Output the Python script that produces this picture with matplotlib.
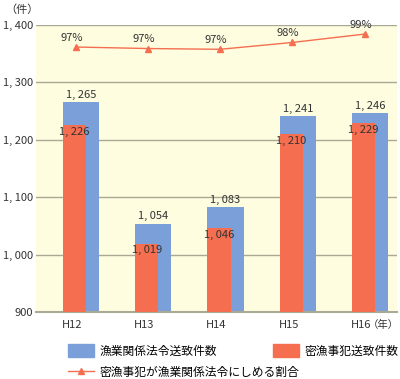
import numpy as np
import matplotlib.pyplot as plt
from matplotlib.lines import Line2D
from matplotlib.patches import Patch

plt.rcParams['font.family'] = ['Noto Sans CJK JP', 'DejaVu Sans']

years = ['H12', 'H13', 'H14', 'H15', 'H16']
total = [1265, 1054, 1083, 1241, 1246]      # 漁業関係法令送致件数
poach = [1226, 1019, 1046, 1210, 1229]      # 密漁事犯送致件数
rate = [96.9, 96.7, 96.6, 97.5, 98.6]       # 割合 (%)
rate_labels = ['97%', '97%', '97%', '98%', '99%']

blue = '#7b9fd8'
red = '#f56e50'

fig = plt.figure(figsize=(4.0, 3.79), dpi=100)
ax = fig.add_axes([36 / 400, 1 - 312 / 379, 361 / 400, 287 / 379])
ax.set_facecolor('#fefde0')

x = np.arange(len(years))
ax.bar(x - 0.125, total, width=0.5, align='edge', color=blue, zorder=2)
ax.bar(x - 0.125, poach, width=0.32, align='edge', color=red, zorder=3)

for i in x:
    ax.text(i + 0.125, total[i] + 4, f'{total[i] // 1000}, {total[i] % 1000:03d}',
            ha='center', va='bottom', fontsize=8, color='#333333', zorder=5)
    ax.text(i + 0.035, poach[i] - 3, f'{poach[i] // 1000}, {poach[i] % 1000:03d}',
            ha='center', va='top', fontsize=8, color='#333333', zorder=5)

ax.set_ylim(900, 1400)
ax.set_xlim(-0.5, 4.5)
ax.set_yticks([900, 1000, 1100, 1200, 1300, 1400])
ax.set_yticklabels(['900', '1, 000', '1, 100', '1, 200', '1, 300', '1, 400'])
ax.set_xticks(x)
ax.set_xticklabels(years)
ax.tick_params(length=0, labelsize=8, colors='#333333')
ax.tick_params(axis='y', pad=2)
ax.tick_params(axis='x', pad=6)
ax.grid(axis='y', color='#a9a996', lw=1, zorder=1)
for s in ['top', 'right', 'left']:
    ax.spines[s].set_visible(False)
ax.spines['bottom'].set_color('#a9a996')
ax.spines['bottom'].set_linewidth(1.5)

# 割合 line on its own scale
ax2 = ax.twinx()
ax2.set_ylim(62.0, 99.8)
ax2.plot(x + 0.05, rate, color=red, lw=1, marker='^', ms=4, zorder=4)
for i in x:
    ax2.annotate(rate_labels[i], (i + 0.05, rate[i]), xytext=(-3, 3),
                 textcoords='offset points', ha='center', va='bottom',
                 fontsize=8, color='#333333')
ax2.set_yticks([])
for s in ax2.spines.values():
    s.set_visible(False)

fig.text(5 / 400, 1 - 10 / 379, '（件）', fontsize=8, va='center', color='#333333')
fig.text(383 / 400, 1 - 325 / 379, '（年）', fontsize=7.5, va='center', ha='center',
         color='#333333')

fig.legend([Patch(color=blue)], ['漁業関係法令送致件数'], loc='center left',
           bbox_to_anchor=(57 / 400, 1 - 351 / 379), frameon=False, fontsize=8.5,
           handlelength=2.2, handleheight=1.3, handletextpad=0.5)
fig.legend([Patch(color=red)], ['密漁事犯送致件数'], loc='center left',
           bbox_to_anchor=(262 / 400, 1 - 351 / 379), frameon=False, fontsize=8.5,
           handlelength=2.2, handleheight=1.3, handletextpad=0.5)
fig.legend([Line2D([], [], color=red, marker='^', ms=4, lw=1)],
           ['密漁事犯が漁業関係法令にしめる割合'], loc='center left',
           bbox_to_anchor=(57 / 400, 1 - 372 / 379), frameon=False, fontsize=8.5,
           handlelength=2.2, handletextpad=0.5)

fig.savefig('out.png', dpi=100)
